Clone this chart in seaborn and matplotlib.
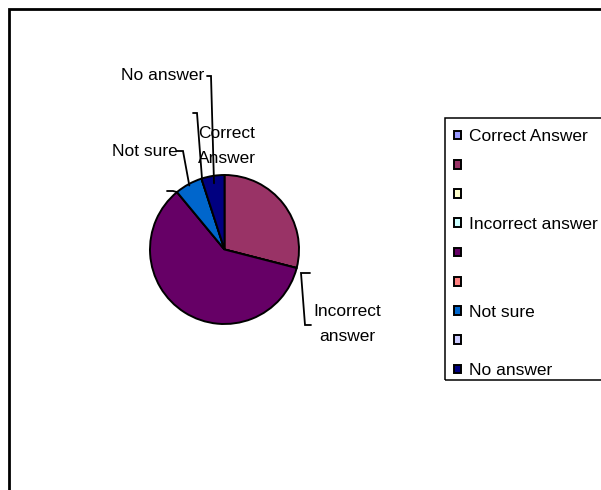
import numpy as np
import matplotlib
matplotlib.use("Agg")
import matplotlib.pyplot as plt
from matplotlib.patches import Rectangle
import seaborn as sns

# Survey answers (share in %), in legend order
categories = ["Correct Answer", "", "", "Incorrect answer", "", "", "Not sure", "", "No answer"]
shares = [0, 29, 0, 0, 60, 0, 6, 0, 5]
colors = ["#9999FF", "#993366", "#FFFFCC", "#CCFFFF", "#660066",
          "#FF8080", "#0066CC", "#CCCCFF", "#000080"]

sns.set_theme(style="white")
plt.rcParams["font.family"] = ["Liberation Sans", "DejaVu Sans"]

W, H = 601, 490
fig = plt.figure(figsize=(W / 100, H / 100), dpi=100)
fig.patch.set_facecolor("white")

# pie centre and radius in pixels
CX, CY, R = 224.5, 249.5, 74.5
SPAN = 2.2  # data units from centre to axes edge
ax = fig.add_axes([(CX - SPAN * R) / W, 1 - (CY + SPAN * R) / H,
                   2 * SPAN * R / W, 2 * SPAN * R / H])

wedges, _ = ax.pie(shares, colors=colors, startangle=90, counterclock=False,
                   radius=1.0, center=(0, 0), frame=False,
                   wedgeprops=dict(edgecolor="black", linewidth=1.4))
ax.set_xlim(-SPAN, SPAN)
ax.set_ylim(-SPAN, SPAN)
ax.set_aspect("equal")
ax.axis("off")


def d(px, py):
    """pixel position -> data coordinates of the pie axes"""
    return (px - CX) / R, (CY - py) / R


total = float(sum(shares))
cum = np.concatenate([[0], np.cumsum(shares)]) / total * 360.0


def edge_point(i, frac, r):
    """point at radius r inside wedge i (frac 0 = start, 0.5 = middle)"""
    theta = cum[i] + frac * (cum[i + 1] - cum[i])
    a = np.deg2rad(90 - theta)
    return r * np.cos(a), r * np.sin(a)


FS = 12.5
LW = 1.3


def leader(points):
    xs, ys = zip(*points)
    ax.plot(xs, ys, color="black", lw=LW, clip_on=False, solid_joinstyle="miter")


# No answer
tx, ty = d(204, 76)
ax.text(tx, ty, categories[8], ha="right", va="center", fontsize=FS, color="black")
leader([d(207, 76), d(211, 76), edge_point(8, 0.5, 0.9)])

# empty label between Not sure and No answer
leader([d(193, 113), d(197, 113), edge_point(7, 0.0, 0.97)])

# Not sure
tx, ty = d(178, 152)
ax.text(tx, ty, categories[6], ha="right", va="center", fontsize=FS, color="black")
leader([d(177, 151), d(183, 151), edge_point(6, 0.5, 0.98)])

# empty label between the purple and blue wedges
leader([d(167, 191), d(173, 191), edge_point(5, 0.0, 1.0)])

# Correct Answer
tx, ty = d(227, 146)
ax.text(tx, ty, "Correct\nAnswer", ha="center", va="center", fontsize=FS,
        color="black", linespacing=1.8)

# Incorrect answer
tx, ty = d(347, 324)
ax.text(tx, ty, "Incorrect\nanswer", ha="center", va="center", fontsize=FS,
        color="black", linespacing=1.8)
leader([d(310, 273), d(301, 273), d(305, 325), d(311, 325)])

# legend
row_h = 19.4
leg = fig.legend(wedges, categories, loc="upper left",
                 bbox_to_anchor=(454 / W, 1 - (139 - row_h / 2) / H),
                 frameon=False, fontsize=FS, borderpad=0, borderaxespad=0,
                 handlelength=0.4, handleheight=0.4, handletextpad=0.45,
                 labelspacing=0.82)
for t in leg.get_texts():
    t.set_color("black")

fig.add_artist(Rectangle((445 / W, 1 - 380 / H), (620 - 445) / W, (380 - 118) / H,
                         transform=fig.transFigure, fill=False,
                         edgecolor="black", linewidth=1.1, clip_on=False))

# chart area border
fig.add_artist(Rectangle((9 / W, 1 - 500 / H), (620 - 9) / W, (500 - 9) / H,
                         transform=fig.transFigure, fill=False,
                         edgecolor="black", linewidth=2.0, clip_on=False))

fig.savefig("out.png", dpi=100, facecolor="white")
